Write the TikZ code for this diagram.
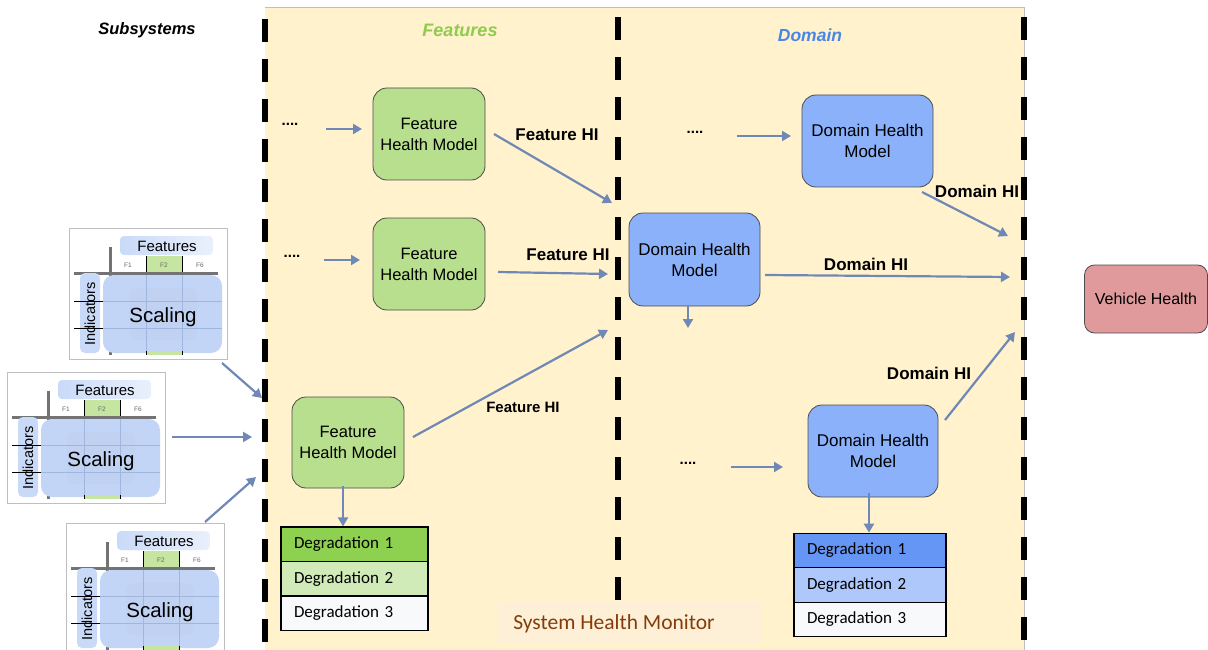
\documentclass[tikz,border=0pt]{standalone}
\usepackage{fontspec}
\setmainfont{Liberation Sans}
\newfontfamily\calfont{Carlito}
\usetikzlibrary{arrows.meta}
\definecolor{bgyellow}{HTML}{FFF2CC}
\definecolor{labelbg}{HTML}{FDF0D6}
\definecolor{fgreen}{HTML}{B8DF8D}
\definecolor{dblue}{HTML}{8AB1F9}
\definecolor{vhred}{HTML}{E09A9B}
\definecolor{arrowc}{HTML}{7088B6}
\definecolor{featgreen}{HTML}{8FCB4F}
\definecolor{domblue}{HTML}{4A86E8}
\definecolor{brownc}{HTML}{843C0C}
\definecolor{degg1}{HTML}{8ED04F}
\definecolor{degg2}{HTML}{D0EAB8}
\definecolor{degw}{HTML}{F8F9FB}
\definecolor{degb1}{HTML}{6596F6}
\definecolor{degb2}{HTML}{AEC8FB}
\definecolor{blobblue}{HTML}{C3D5F7}
\definecolor{hdrblue}{HTML}{C9DAF8}
\definecolor{gridblue}{HTML}{9FB6DE}
\definecolor{f2green}{HTML}{C6E5A0}
\tikzset{
  x=1pt, y=-1pt,
  arr/.style={draw=arrowc, line width=2.2pt, -{Triangle[length=9pt,width=10pt]}},
  dashline/.style={line width=6pt, dash pattern=on 23pt off 17pt},
  fbox/.style={draw=black!70, line width=0.8pt, fill=fgreen, rounded corners=14pt, align=center,
    font=\fontsize{16.5}{21}\selectfont, inner sep=0pt},
  dbox/.style={draw=black!70, line width=0.8pt, fill=dblue, rounded corners=14pt, align=center,
    font=\fontsize{17}{21}\selectfont, inner sep=0pt},
  hilabel/.style={font=\bfseries\fontsize{17}{20}\selectfont, inner sep=0pt},
  dots/.style={font=\bfseries\fontsize{15}{15}\selectfont, inner sep=0pt},
  degrow/.style={draw=black, line width=1.2pt, minimum height=34.5pt, align=left,
    font=\calfont\fontsize{17}{20}\selectfont, inner xsep=13pt, inner ysep=0pt},
}
\newcommand{\subsysfig}[3]{%
\begin{scope}[shift={(#1,#2)}]
  \draw[draw=black!25, line width=0.8pt, fill=white] (0,0) rectangle (158,131);
  \shade[left color=hdrblue, right color=hdrblue!40, rounded corners=4pt] (51,8) rectangle (144,27);
  \node[font=\fontsize{15}{15}\selectfont, inner sep=0pt] (#3feat) at (98,18) {Features};
  \fill[f2green] (77,28) rectangle (113,45);
  \node[font=\fontsize{6.5}{7}\selectfont, text=black!60, inner sep=0pt] (#3fa) at (59,37) {F1};
  \node[font=\fontsize{6.5}{7}\selectfont, text=black!60, inner sep=0pt] (#3fb) at (95,37) {F2};
  \node[font=\fontsize{6.5}{7}\selectfont, text=black!60, inner sep=0pt] (#3fc) at (131,37) {F6};
  \draw[black, line width=1pt] (77,28)--(77,45) (113,28)--(113,45);
  \draw[black!55, line width=3pt] (41,19)--(41,127) (5,45)--(149,45);
  \fill[blobblue, rounded corners=11pt] (34,47) rectangle (153,125);
  \fill[gridblue!70, rounded corners=8pt, opacity=0.35] (60,60) rectangle (128,112);
  \draw[gridblue, line width=0.9pt] (77,47)--(77,127) (113,47)--(113,127) (34,73)--(153,73) (34,100)--(153,100);
  \fill[f2green] (77,123) rectangle (113,127);
  \draw[black, line width=1pt] (77,123)--(77,127) (113,123)--(113,127);
  \fill[hdrblue, rounded corners=5pt] (11,45) rectangle (31,125);
  \node[rotate=90, font=\fontsize{14.5}{15}\selectfont, inner sep=0pt] (#3ind) at (21,86) {Indicators};
  \draw[black, line width=1pt] (5,73)--(34,73) (5,100)--(34,100);
  \node[font=\fontsize{20.5}{22}\selectfont, inner sep=0pt] (#3scal) at (94,89) {Scaling};
\end{scope}}
\begin{document}
\begin{tikzpicture}
\useasboundingbox (0,0) rectangle (1208,650);
\begin{scope}
\clip (0,0) rectangle (1208,650);
% panel
\fill[bgyellow] (265,7) rectangle (1024,650);
\draw[black!25, line width=0.8pt] (265,7) -- (1024,7) -- (1024,650);
\fill[labelbg] (497,602) rectangle (762,643);
\draw[dashline] (265,19) -- (265,650);
\draw[dashline] (618,17) -- (618,602);
\draw[dashline] (1024,17) -- (1024,650);

% headings
\node[font=\bfseries\itshape\fontsize{16.5}{20}\selectfont, inner sep=0pt] (subsys) at (147,30) {Subsystems};
\node[font=\bfseries\itshape\fontsize{18}{20}\selectfont, text=featgreen, inner sep=0pt] (feath) at (460,30) {Features};
\node[font=\bfseries\itshape\fontsize{17.5}{20}\selectfont, text=domblue, inner sep=0pt] (domh) at (810,35) {Domain};
\node[font=\calfont\fontsize{21.5}{24}\selectfont, text=brownc, inner sep=0pt] (shm) at (614,624) {System Health Monitor};

% subsystems
\subsysfig{69}{228}{sa}
\subsysfig{7}{372}{sb}
\subsysfig{66}{523}{sc}
\end{scope}

% feature health models
\node[fbox, minimum width=112pt, minimum height=92pt] (fhm1) at (429,134) {Feature\\Health Model};
\node[fbox, minimum width=112pt, minimum height=92pt] (fhm2) at (429,264) {Feature\\Health Model};
\node[fbox, minimum width=112pt, minimum height=91pt] (fhm3) at (348,442.5) {Feature\\Health Model};

% domain health models
\node[dbox, minimum width=131pt, minimum height=92pt] (dhm1) at (867.5,141) {Domain Health\\Model};
\node[dbox, minimum width=131pt, minimum height=93pt] (dhm2) at (694.5,259.5) {Domain Health\\Model};
\node[dbox, minimum width=130pt, minimum height=92pt] (dhm3) at (873,451) {Domain Health\\Model};

% vehicle health
\node[draw=black!70, line width=0.8pt, fill=vhred, rounded corners=10pt, minimum width=123pt, minimum height=68pt,
  font=\fontsize{16}{20}\selectfont, inner sep=0pt] (vh) at (1146,299) {Vehicle Health};

% degradation tables
\node[degrow, fill=degg1, text width=121pt] (fd1) at (354.5,544.25) {Degradation 1};
\node[degrow, fill=degg2, text width=121pt] (fd2) at (354.5,578.75) {Degradation 2};
\node[degrow, fill=degw, text width=121pt] (fd3) at (354.5,613.25) {Degradation 3};
\node[degrow, fill=degb1, text width=126pt] (dd1) at (870,550.5) {Degradation 1};
\node[degrow, fill=degb2, text width=126pt] (dd2) at (870,585) {Degradation 2};
\node[degrow, fill=degw, text width=126pt] (dd3) at (870,619.5) {Degradation 3};

% dots
\node[dots] (fdots1) at (290,124) {....};
\node[dots] (fdots2) at (292,256) {....};
\node[dots] (ddots1) at (695,132) {....};
\node[dots] (ddots3) at (688,463) {....};

% labels
\node[hilabel] (fhi1) at (557,135) {Feature HI};
\node[hilabel] (fhi2) at (568,255) {Feature HI};
\node[hilabel, font=\bfseries\fontsize{15}{18}\selectfont] (fhi3) at (523,407) {Feature HI};
\node[hilabel] (dhi1) at (977,191) {Domain HI};
\node[hilabel] (dhi2) at (866,264) {Domain HI};
\node[hilabel] (dhi3) at (929,373) {Domain HI};

% coordinates
\coordinate (a1s) at (326,129); \coordinate (a1e) at (362,129);
\coordinate (a2s) at (324,260); \coordinate (a2e) at (360,260);
\coordinate (a3s) at (494,134); \coordinate (a3e) at (612,203);
\coordinate (a4s) at (498,272); \coordinate (a4e) at (608,274);
\coordinate (a5s) at (413,437); \coordinate (a5e) at (608,330);
\coordinate (a6s) at (343,486);
\coordinate (a7s) at (737,136); \coordinate (a7e) at (791,136);
\coordinate (a8s) at (922,192); \coordinate (a8e) at (1008,236);
\coordinate (a9s) at (765,275); \coordinate (a9e) at (1010,277);
\coordinate (a10s) at (688,306); \coordinate (a10e) at (688,328);
\coordinate (a11s) at (731,467); \coordinate (a11e) at (783,467);
\coordinate (a12s) at (945,420); \coordinate (a12e) at (1015,332);
\coordinate (a13s) at (869,493);
\coordinate (s1s) at (222,363); \coordinate (s1e) at (262,398);
\coordinate (s2s) at (172,437); \coordinate (s2e) at (252,437);
\coordinate (s3s) at (205,522); \coordinate (s3e) at (256,477);

% arrows
\draw[arr] (a1s) -- (a1e);
\draw[arr] (a2s) -- (a2e);
\draw[arr] (a3s) -- (a3e);
\draw[arr] (a4s) -- (a4e);
\draw[arr] (a5s) -- (a5e);
\draw[arr] (a6s) -- (a6s |- fd1.north);
\draw[arr] (a7s) -- (a7e);
\draw[arr] (a8s) -- (a8e);
\draw[arr] (a9s) -- (a9e);
\draw[arr] (a10s) -- (a10e);
\draw[arr] (a11s) -- (a11e);
\draw[arr] (a12s) -- (a12e);
\draw[arr] (a13s) -- (a13s |- dd1.north);
\draw[arr] (s1s) -- (s1e);
\draw[arr] (s2s) -- (s2e);
\draw[arr] (s3s) -- (s3e);
\end{tikzpicture}
\end{document}
